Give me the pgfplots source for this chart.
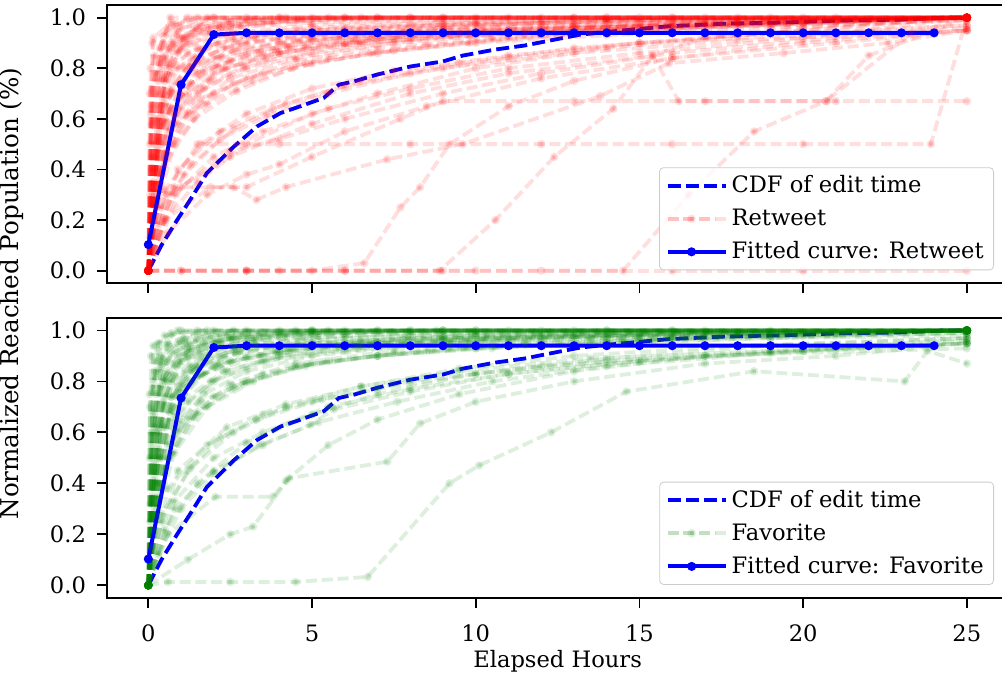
\documentclass[border=0pt,10pt]{standalone}
\usepackage{fontspec}
\setmainfont{DejaVu Serif}
\usepackage{pgfplots}
\pgfplotsset{compat=1.18}

\definecolor{mplgreen}{rgb}{0,0.5,0}
\newcommand{\lbl}{\fontsize{11.3}{13.6}\selectfont}

\pgfplotsset{
  panel/.style={
    scale only axis,
    width=450.2pt,
    xmin=-1.25, xmax=26.25, ymin=-0.05, ymax=1.05,
    xtick={0,5,10,15,20,25},
    ytick={0,0.2,0.4,0.6,0.8,1},
    tick align=outside, xtick pos=bottom, ytick pos=left,
    major tick length=5pt,
    every tick/.style={black, line width=0.9pt},
    axis line style={line width=0.9pt},
    tick label style={font=\lbl},
    xticklabel style={yshift=-5pt},
    yticklabel style={xshift=-2.2pt},
    /pgf/number format/assume math mode=true,
    yticklabel style={/pgf/number format/.cd, fixed, fixed zerofill, precision=1},
    legend cell align=left,
    legend style={
      anchor=south east, at={(0.9847,0.0467)},
      draw=black!20, rounded corners=2pt,
      fill=white, fill opacity=0.8, draw opacity=1, text opacity=1,
      inner xsep=3pt, inner ysep=2pt, row sep=2.6pt,
      font=\lbl,
    },
    legend image code/.code={%
      \path (0pt,0pt) -- (29pt,0pt);
      \draw[mark repeat=2, mark phase=2, #1]
        plot coordinates {(0pt,0pt) (12pt,0pt) (24pt,0pt)};},
  },
  cdf/.style={blue, line width=1.9pt, dash pattern=on 6.5pt off 2.6pt, no markers},
  fitted/.style={blue, line width=2pt, solid, mark=*, mark size=1.2pt},
  spread/.style={line width=1.9pt, opacity=0.13, dash pattern=on 5.5pt off 2.4pt,
                 mark=*, mark size=1.1pt, mark options={solid}},
  retweet/.style={red, spread},
  favorite/.style={mplgreen, spread},
}

% one cascade per tweet
\newcommand{\rl}[1]{\addplot[retweet, forget plot] coordinates {#1};}
\newcommand{\gl}[1]{\addplot[favorite, forget plot] coordinates {#1};}

% CDF of the edit time (hours)
\newcommand{\cdfdata}{(0,0) (0.4,0.1) (0.88,0.2) (1.28,0.28) (1.79,0.386) (2.61,0.49) (3.32,0.57) (4.04,0.623) (4.65,0.65) (5.36,0.683) (5.82,0.735) (6.28,0.748) (6.99,0.775) (8.01,0.807) (9.0,0.827) (9.6,0.85) (10.6,0.874) (11.5,0.89) (12.4,0.913) (13.2,0.933) (14.2,0.946) (15.9,0.966) (17.6,0.976) (19.4,0.981) (21.2,0.989) (22.9,0.992) (24.3,1.0) (24.9,1.0)}
% fitted curve, hourly
\newcommand{\fitdata}{(0,0.103) (1,0.735) (2,0.933) (3,0.94) (4,0.94) (5,0.94) (6,0.94) (7,0.94) (8,0.94) (9,0.94) (10,0.94) (11,0.94) (12,0.94) (13,0.94) (14,0.94) (15,0.94) (16,0.94) (17,0.94) (18,0.94) (19,0.94) (20,0.94) (21,0.94) (22,0.94) (23,0.94) (24,0.94)}

\begin{document}
\begin{tikzpicture}

% ---------------- Retweet ----------------
\begin{axis}[panel, height=139.15pt, at={(0,157.35pt)}, anchor=south west,
             xticklabels={}]
\addplot[cdf] coordinates {\cdfdata};
\addlegendentry{CDF of edit time}
\addplot[retweet] coordinates {(0,0) (0.08,0.62) (0.35,0.88) (0.67,1) (4,1) (9,1) (15,1) (21,1) (25,1)};
\addlegendentry{Retweet}
\rl{(0,0) (0.2,0.7) (0.5,0.93) (1.2,1) (6,1) (12,1) (19,1) (25,1)}
\rl{(0,0) (0.1,0.4) (0.4,0.8) (0.9,0.95) (2,1) (8,1) (16,1) (25,1)}
\rl{(0,0) (0.3,0.6) (0.8,0.9) (1.6,0.97) (3,1) (11,1) (18,1) (25,1)}
\rl{(0,0) (0.07,0.8) (0.6,0.96) (1.5,1) (7,1) (14,1) (25,1)}
\rl{(0,0) (0.4,0.7) (1,0.92) (2.5,0.98) (4,1) (13,1) (25,1)}
\rl{(0,0) (0.2,0.5) (0.6,0.82) (1.3,0.93) (2.8,0.97) (5,1) (17,1) (25,1)}
\rl{(0,0) (0.5,0.85) (1.4,0.95) (3.2,0.99) (6,1) (20,1) (25,1)}
\rl{(0,0) (0.12,0.9) (0.8,0.97) (2,1) (10,1) (25,1)}
\rl{(0,0) (0.15,0.3) (0.5,0.75) (1.1,0.9) (2.2,0.96) (4.5,0.99) (7,1) (25,1)}
\rl{(0,0) (0.6,0.88) (1.8,0.96) (3.5,0.98) (8,1) (25,1)}
\rl{(0,0) (0.35,0.65) (0.9,0.86) (1.9,0.94) (3.8,0.98) (6.5,1) (25,1)}
\rl{(0,0) (0.05,0.5) (0.25,0.78) (0.7,0.9) (1.5,0.96) (3,0.99) (5.5,1) (25,1)}
\rl{(0,0) (0.1,0.72) (0.45,0.9) (1,0.96) (2.4,0.99) (4.2,1) (25,1)}
\rl{(0,0) (0.3,0.4) (1,0.65) (2,0.78) (3.5,0.85) (6,0.9) (9,0.94) (13,0.97) (18,0.99) (25,1)}
\rl{(0,0) (0.2,0.3) (0.8,0.6) (1.7,0.72) (3,0.8) (5,0.86) (8,0.91) (12,0.95) (17,0.98) (25,1)}
\rl{(0,0) (0.4,0.5) (1.2,0.7) (2.4,0.8) (4,0.86) (6.5,0.9) (10,0.93) (15,0.96) (20,0.98) (25,1)}
\rl{(0,0) (0.3,0.35) (0.9,0.58) (2,0.7) (3.5,0.78) (5.5,0.84) (8.5,0.89) (12,0.93) (16,0.96) (21,0.99) (25,1)}
\rl{(0,0) (0.5,0.6) (1.5,0.78) (3,0.86) (5,0.91) (8,0.95) (12,0.98) (16,1) (25,1)}
\rl{(0,0) (0.2,0.45) (0.7,0.7) (1.5,0.82) (2.8,0.88) (5,0.92) (9,0.96) (14,0.99) (25,1)}
\rl{(0,0) (0.6,0.55) (1.6,0.68) (3,0.76) (4.8,0.82) (7,0.86) (10,0.9) (14,0.93) (19,0.96) (25,0.99)}
\rl{(0,0) (0.25,0.25) (0.8,0.5) (1.8,0.66) (3.2,0.75) (5,0.82) (7.5,0.87) (11,0.92) (15,0.95) (20,0.98) (25,1)}
\rl{(0,0) (0.4,0.62) (1.1,0.8) (2.3,0.88) (4,0.92) (6.5,0.95) (10,0.97) (15,0.99) (25,1)}
\rl{(0,0) (0.3,0.52) (1,0.74) (2.2,0.84) (4.2,0.89) (7,0.92) (11,0.94) (16,0.96) (21,0.98) (25,1)}
\rl{(0,0) (0.5,0.45) (1.4,0.63) (2.6,0.74) (4.5,0.83) (7,0.88) (10.5,0.92) (14.5,0.95) (19,0.97) (25,1)}
\rl{(0,0) (0.2,0.6) (0.7,0.78) (1.6,0.87) (3.3,0.92) (6,0.95) (10,0.98) (14,1) (25,1)}
\rl{(0,0) (0.7,0.72) (2,0.84) (4,0.9) (7,0.93) (11,0.95) (16,0.97) (22,0.99) (25,1)}
\rl{(0,0) (0.35,0.38) (1.2,0.62) (2.5,0.76) (4.5,0.84) (7.5,0.9) (11.5,0.94) (17,0.97) (25,1)}
\rl{(0,0) (0.45,0.68) (1.3,0.82) (2.7,0.9) (5,0.93) (9,0.95) (13,0.96) (18,0.98) (25,1)}
\rl{(0,0) (0.15,0.35) (0.6,0.7) (1.4,0.84) (3,0.9) (6,0.94) (9,0.96) (13,0.97) (18,0.98) (25,1)}
\rl{(0,0) (0.25,0.58) (0.9,0.8) (2.1,0.9) (4.5,0.95) (8,0.97) (12,0.98) (19,0.99) (25,1)}
\rl{(0,0) (0.55,0.47) (1.5,0.7) (2.9,0.81) (4.8,0.88) (7.5,0.92) (11,0.95) (16,0.97) (25,1)}
\rl{(0,0) (0.08,0.2) (0.5,0.42) (1.4,0.6) (2.7,0.71) (4.4,0.8) (6.8,0.86) (9.8,0.9) (13.5,0.94) (18,0.97) (25,1)}
\rl{(0,0) (0.3,0.75) (1,0.88) (2.4,0.93) (5,0.96) (9,0.98) (14,0.99) (25,1)}
\rl{(0,0) (0.1,0.45) (0.5,0.66) (1.3,0.8) (2.6,0.87) (4.6,0.91) (7.8,0.94) (12,0.96) (17,0.98) (25,1)}
\rl{(0,0) (0.06,0.3) (0.3,0.55) (1,0.72) (2.1,0.81) (3.9,0.87) (6.3,0.91) (9.5,0.94) (14,0.96) (20,0.98) (25,1)}
\rl{(0,0) (0.2,0.85) (0.9,0.93) (2.2,0.97) (4.6,0.99) (9,1) (25,1)}
\rl{(0,0) (0.12,0.65) (0.6,0.8) (1.5,0.88) (3.2,0.93) (6,0.96) (10,0.98) (16,0.99) (25,1)}
\rl{(0,0) (0.45,0.58) (1.3,0.74) (2.5,0.83) (4.3,0.88) (6.8,0.92) (10.3,0.95) (15,0.97) (25,1)}
\rl{(0,0) (0.35,0.82) (1.2,0.9) (2.6,0.94) (5,0.97) (8.8,0.99) (13,1) (25,1)}
\rl{(0,0) (0.18,0.4) (0.8,0.62) (1.9,0.75) (3.6,0.83) (6,0.89) (9.2,0.93) (13.5,0.96) (19,0.98) (25,1)}
\rl{(0,0) (0.04,0.7) (0.4,0.84) (1.1,0.92) (2.5,0.96) (5,0.98) (9,0.99) (25,1)}
\rl{(0,0) (0.28,0.48) (1,0.69) (2.3,0.8) (4,0.86) (6.4,0.9) (9.8,0.93) (14,0.95) (19.5,0.97) (25,0.99)}
\rl{(0,0) (0.15,0.92) (0.7,0.98) (1.8,1) (25,1)}
\rl{(0,0) (0.65,0.64) (1.7,0.79) (3.4,0.87) (5.8,0.92) (9,0.95) (13,0.97) (18,0.99) (25,1)}
\rl{(0,0) (0.1,0.58) (0.45,0.76) (1.2,0.86) (2.6,0.92) (5.2,0.95) (9,0.97) (14,0.985) (25,1)}
\rl{(0,0) (0.5,0.2) (1.5,0.35) (3,0.5) (5,0.62) (7,0.7) (10,0.8) (14,0.88) (19,0.94) (25,1)}
\rl{(0,0) (0.8,0.3) (2,0.45) (3.5,0.55) (5.5,0.64) (8,0.72) (11,0.8) (15,0.86) (20,0.92) (25,1)}
\rl{(0,0) (0.4,0.25) (1.3,0.42) (2.6,0.56) (4.2,0.66) (6.5,0.75) (9.5,0.82) (13,0.88) (18,0.93) (25,0.97)}
\rl{(0,0) (1,0.33) (2.5,0.47) (4,0.52) (6,0.6) (9,0.7) (12,0.78) (16,0.86) (21,0.92) (25,0.96)}
\rl{(0,0) (0.6,0.15) (1.8,0.3) (3,0.38) (4,0.42) (6,0.55) (8.5,0.65) (12,0.76) (16,0.84) (21,0.9) (25,0.95)}
\rl{(0,0) (0.3,0.18) (1.1,0.38) (2.2,0.52) (3.6,0.61) (5.5,0.7) (8,0.78) (11,0.84) (15,0.9) (20,0.95) (25,1)}
\rl{(0,0) (0.9,0.4) (2.2,0.55) (3.8,0.64) (6,0.73) (9,0.8) (13,0.86) (18,0.91) (25,0.95)}
\rl{(0,0) (0.5,0.32) (1.6,0.5) (3,0.62) (5,0.72) (7.5,0.79) (11,0.85) (15,0.9) (20,0.93) (25,0.97)}
\rl{(0,0) (1,0) (3,0) (6,0) (9,0) (12,0) (16,0) (20,0) (25,0)}
\rl{(0,0) (3,0) (6,0) (8.9,0) (10.6,0.2) (12.4,0.45) (14.2,0.64) (15.4,0.85) (17,0.92) (20,0.96) (25,1)}
\rl{(0,0) (0.5,0.3) (1.5,0.5) (4,0.5) (8,0.5) (12,0.5) (16,0.5) (20,0.5) (23.9,0.5) (25,1)}
\rl{(0,0) (0.8,0.33) (3,0.33) (5,0.45) (7.7,0.6) (9,0.67) (13,0.67) (17,0.67) (21,0.67) (25,0.67)}
\rl{(0,0) (0.6,0.3) (2.5,0.45) (5,0.58) (8,0.7) (11,0.78) (15.4,0.85) (16.2,0.67) (20.7,0.67) (23.3,0.94) (25,1)}
\rl{(0,0) (0.5,0.2) (1.9,0.33) (2.6,0.33) (3.3,0.28) (4.2,0.33) (7.3,0.44) (9.6,0.5) (13.8,0.69) (15.9,0.82) (19.4,0.86) (22.6,0.9) (25,0.95)}
\rl{(0,0) (4,0) (10,0) (14.5,0) (16.5,0.3) (18.5,0.55) (20.7,0.67) (22,0.85) (25,1)}
\rl{(0,0) (1,0) (3,0) (5,0) (6.6,0.03) (7.7,0.25) (8.3,0.33) (9.2,0.5) (11,0.65) (13,0.75) (16,0.84) (20,0.9) (25,0.95)}
\addplot[fitted] coordinates {\fitdata};
\addlegendentry{Fitted curve: Retweet}
\end{axis}

% ---------------- Favorite ----------------
\begin{axis}[panel, height=140.15pt, at={(0,0)}, anchor=south west]
\addplot[cdf] coordinates {\cdfdata};
\addlegendentry{CDF of edit time}
\addplot[favorite] coordinates {(0,0) (0.05,0.7) (0.3,0.92) (0.9,1) (5,1) (12,1) (19,1) (25,1)};
\addlegendentry{Favorite}
\gl{(0,0) (0.1,0.55) (0.4,0.86) (1,0.96) (2,1) (9,1) (17,1) (25,1)}
\gl{(0,0) (0.15,0.8) (0.6,0.95) (1.4,0.99) (3,1) (10,1) (25,1)}
\gl{(0,0) (0.2,0.45) (0.6,0.8) (1.2,0.92) (2.5,0.97) (5,1) (14,1) (25,1)}
\gl{(0,0) (0.08,0.9) (0.5,0.98) (1.5,1) (8,1) (25,1)}
\gl{(0,0) (0.3,0.62) (0.8,0.87) (1.7,0.95) (3.4,0.98) (6,1) (16,1) (25,1)}
\gl{(0,0) (0.12,0.35) (0.45,0.72) (1,0.88) (2.1,0.95) (4,0.98) (7,1) (25,1)}
\gl{(0,0) (0.4,0.9) (1.1,0.97) (2.6,1) (11,1) (25,1)}
\gl{(0,0) (0.25,0.75) (0.7,0.91) (1.5,0.96) (3,0.99) (5.5,1) (25,1)}
\gl{(0,0) (0.06,0.25) (0.3,0.6) (0.8,0.82) (1.6,0.91) (3,0.96) (5.2,0.99) (9,1) (25,1)}
\gl{(0,0) (0.5,0.82) (1.3,0.93) (2.8,0.98) (5,1) (25,1)}
\gl{(0,0) (0.18,0.67) (0.55,0.88) (1.2,0.95) (2.4,0.99) (4.5,1) (25,1)}
\gl{(0,0) (0.1,0.15) (0.35,0.5) (0.9,0.78) (1.8,0.9) (3.3,0.96) (6,0.99) (10,1) (25,1)}
\gl{(0,0) (0.3,0.95) (1,1) (25,1)}
\gl{(0,0) (0.22,0.4) (0.7,0.7) (1.4,0.86) (2.7,0.93) (4.8,0.97) (8,0.99) (13,1) (25,1)}
\gl{(0,0) (0.04,0.5) (0.2,0.84) (0.6,0.94) (1.8,0.98) (4,1) (25,1)}
\gl{(0,0) (0.35,0.78) (0.9,0.9) (2,0.96) (4,0.99) (7,1) (25,1)}
\gl{(0,0) (0.14,0.6) (0.5,0.8) (1.1,0.9) (2.2,0.95) (4.2,0.98) (8,1) (25,1)}
\gl{(0,0) (0.3,0.4) (1,0.65) (2,0.8) (3.5,0.88) (6,0.93) (9,0.96) (13,0.98) (18,0.99) (25,1)}
\gl{(0,0) (0.2,0.3) (0.8,0.6) (1.7,0.75) (3,0.84) (5,0.9) (8,0.94) (12,0.97) (17,0.99) (25,1)}
\gl{(0,0) (0.4,0.5) (1.2,0.72) (2.4,0.84) (4,0.9) (6.5,0.94) (10,0.96) (15,0.98) (20,0.99) (25,1)}
\gl{(0,0) (0.3,0.35) (0.9,0.6) (2,0.74) (3.5,0.83) (5.5,0.88) (8.5,0.92) (12,0.95) (16,0.97) (21,0.99) (25,1)}
\gl{(0,0) (0.5,0.62) (1.5,0.82) (3,0.9) (5,0.94) (8,0.97) (12,0.99) (16,1) (25,1)}
\gl{(0,0) (0.2,0.48) (0.7,0.74) (1.5,0.86) (2.8,0.92) (5,0.95) (9,0.97) (14,0.99) (25,1)}
\gl{(0,0) (0.6,0.55) (1.6,0.72) (3,0.8) (4.8,0.86) (7,0.9) (10,0.93) (14,0.95) (19,0.97) (25,0.99)}
\gl{(0,0) (0.25,0.27) (0.8,0.52) (1.8,0.7) (3.2,0.8) (5,0.87) (7.5,0.91) (11,0.94) (15,0.96) (20,0.98) (25,1)}
\gl{(0,0) (0.4,0.64) (1.1,0.83) (2.3,0.9) (4,0.94) (6.5,0.96) (10,0.98) (15,0.99) (25,1)}
\gl{(0,0) (0.3,0.54) (1,0.77) (2.2,0.87) (4.2,0.92) (7,0.95) (11,0.96) (16,0.97) (21,0.98) (25,1)}
\gl{(0,0) (0.5,0.46) (1.4,0.66) (2.6,0.78) (4.5,0.86) (7,0.9) (10.5,0.93) (14.5,0.96) (19,0.98) (25,1)}
\gl{(0,0) (0.2,0.62) (0.7,0.8) (1.6,0.89) (3.3,0.94) (6,0.97) (10,0.99) (14,1) (25,1)}
\gl{(0,0) (0.7,0.74) (2,0.86) (4,0.92) (7,0.95) (11,0.97) (16,0.98) (22,0.99) (25,1)}
\gl{(0,0) (0.35,0.4) (1.2,0.65) (2.5,0.79) (4.5,0.87) (7.5,0.92) (11.5,0.95) (17,0.97) (25,0.99)}
\gl{(0,0) (0.45,0.7) (1.3,0.84) (2.7,0.91) (5,0.95) (9,0.97) (13,0.98) (18,0.99) (25,1)}
\gl{(0,0) (0.15,0.22) (0.6,0.5) (1.5,0.68) (2.9,0.79) (4.6,0.86) (7,0.9) (10,0.93) (14,0.95) (19,0.97) (25,0.98)}
\gl{(0,0) (0.1,0.5) (0.5,0.74) (1.3,0.86) (2.6,0.92) (4.6,0.95) (7.8,0.97) (12,0.98) (17,0.99) (25,1)}
\gl{(0,0) (0.06,0.32) (0.3,0.6) (1,0.78) (2.1,0.87) (3.9,0.92) (6.3,0.95) (9.5,0.97) (14,0.98) (25,1)}
\gl{(0,0) (0.2,0.88) (0.9,0.95) (2.2,0.98) (4.6,0.99) (9,1) (25,1)}
\gl{(0,0) (0.12,0.68) (0.6,0.84) (1.5,0.92) (3.2,0.96) (6,0.98) (10,0.99) (25,1)}
\gl{(0,0) (0.45,0.62) (1.3,0.8) (2.5,0.88) (4.3,0.92) (6.8,0.95) (10.3,0.97) (15,0.98) (25,1)}
\gl{(0,0) (0.35,0.85) (1.2,0.93) (2.6,0.97) (5,0.99) (8.8,1) (25,1)}
\gl{(0,0) (0.18,0.42) (0.8,0.66) (1.9,0.8) (3.6,0.88) (6,0.92) (9.2,0.95) (13.5,0.97) (19,0.99) (25,1)}
\gl{(0,0) (0.04,0.75) (0.4,0.88) (1.1,0.94) (2.5,0.97) (5,0.99) (25,1)}
\gl{(0,0) (0.28,0.5) (1,0.72) (2.3,0.84) (4,0.9) (6.4,0.93) (9.8,0.95) (14,0.97) (19.5,0.98) (25,0.99)}
\gl{(0,0) (0.15,0.94) (0.7,0.99) (1.8,1) (25,1)}
\gl{(0,0) (0.65,0.68) (1.7,0.83) (3.4,0.9) (5.8,0.94) (9,0.96) (13,0.98) (18,0.99) (25,1)}
\gl{(0,0) (0.1,0.6) (0.45,0.8) (1.2,0.89) (2.6,0.94) (5.2,0.97) (9,0.98) (14,0.99) (25,1)}
\gl{(0,0) (0.5,0.22) (1.5,0.4) (3,0.56) (5,0.67) (7,0.75) (10,0.83) (14,0.89) (19,0.94) (25,0.97)}
\gl{(0,0) (0.8,0.33) (2,0.5) (3.5,0.6) (5.5,0.7) (8,0.77) (11,0.83) (15,0.88) (20,0.92) (25,0.95)}
\gl{(0,0) (0.4,0.28) (1.3,0.46) (2.6,0.6) (4.2,0.7) (6.5,0.78) (9.5,0.85) (13,0.9) (18,0.94) (25,0.97)}
\gl{(0,0) (0.3,0.12) (1,0.3) (2,0.44) (3.4,0.55) (5.2,0.64) (7.6,0.72) (10.5,0.8) (14,0.86) (19,0.91) (25,0.95)}
\gl{(0,0) (0.6,0.38) (1.8,0.55) (3.3,0.65) (5.3,0.73) (8,0.8) (12,0.86) (17,0.9) (25,0.93)}
\gl{(0,0) (0.9,0.45) (2.4,0.62) (4.2,0.71) (6.5,0.78) (9.5,0.84) (13.5,0.89) (19,0.92) (25,0.95)}
\gl{(0,0) (0.6,0.013) (2.5,0.013) (4.5,0.013) (6.7,0.033) (9.2,0.4) (10.1,0.47) (12.3,0.6) (14.6,0.76) (18.5,0.84) (23.1,0.8) (23.8,0.92) (25,0.87)}
\gl{(0,0) (1.2,0.1) (2.5,0.2) (3.2,0.23) (4.3,0.42) (7.3,0.485) (8.3,0.635) (10,0.72) (13,0.8) (17,0.87) (21,0.9) (25,0.95)}
\gl{(0,0) (0.6,0.2) (2.05,0.347) (3.8,0.347) (4.2,0.41) (5.5,0.55) (7,0.65) (9.5,0.75) (13,0.84) (17,0.9) (21,0.93) (25,0.97)}
\gl{(0,0) (0.8,0.3) (2,0.45) (3.5,0.55) (4.95,0.63) (5.66,0.69) (8,0.76) (11,0.83) (15,0.88) (20,0.92) (25,0.96)}
\gl{(0,0) (0.4,0.25) (1.2,0.45) (2.2,0.58) (3.5,0.67) (5,0.72) (7,0.77) (10,0.83) (14,0.88) (19,0.92) (25,0.95)}
\addplot[fitted] coordinates {\fitdata};
\addlegendentry{Fitted curve: Favorite}
\end{axis}

\node[rotate=90, anchor=base, font=\fontsize{12.3}{14.8}\selectfont] at (-44.2pt,152.2pt) {Normalized Reached Population (\%)};
\node[anchor=base, font=\lbl] at (225.1pt,-34.8pt) {Elapsed Hours};

\pgfresetboundingbox
\useasboundingbox (-53.7pt,-38.5pt) rectangle (447.3pt,299pt);
\end{tikzpicture}
\end{document}
